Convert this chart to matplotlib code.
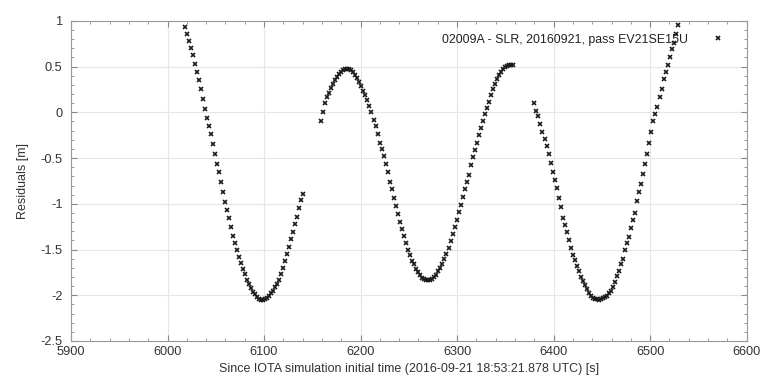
import numpy as np
import matplotlib.pyplot as plt
from matplotlib.ticker import MultipleLocator

plt.rcParams['font.family'] = ['Liberation Sans', 'DejaVu Sans']

# pass 1
t1_start, t1_step = 6018.1, 2.07
res1 = [0.93, 0.86, 0.78, 0.70, 0.63, 0.53, 0.44, 0.35, 0.25, 0.15,
        0.04, -0.06, -0.15, -0.24, -0.35, -0.46, -0.56, -0.65, -0.76, -0.87,
        -0.98, -1.07, -1.16, -1.25, -1.35, -1.43, -1.51, -1.58, -1.65, -1.71,
        -1.77, -1.83, -1.88, -1.92, -1.96, -1.99, -2.02, -2.04, -2.05, -2.05,
        -2.04, -2.03, -2.01, -1.98, -1.95, -1.91, -1.88, -1.83, -1.77, -1.70,
        -1.63, -1.55, -1.47, -1.39, -1.31, -1.22, -1.14, -1.05, -0.96, -0.89]

# pass 2
t2_start, t2_step = 6158.8, 2.1
res2 = [-0.09, 0.00, 0.10, 0.165, 0.215, 0.27, 0.31, 0.35, 0.385, 0.415,
        0.44, 0.46, 0.47, 0.475, 0.475, 0.46, 0.44, 0.41, 0.375, 0.335,
        0.285, 0.235, 0.19, 0.135, 0.07, 0.00, -0.08, -0.15, -0.24, -0.33,
        -0.40, -0.48, -0.57, -0.655, -0.76, -0.84, -0.94, -1.02, -1.11, -1.20,
        -1.28, -1.35, -1.43, -1.50, -1.56, -1.62, -1.66, -1.71, -1.75, -1.78,
        -1.81, -1.825, -1.835, -1.837, -1.83, -1.82, -1.80, -1.775, -1.74, -1.706,
        -1.66, -1.60, -1.545, -1.48, -1.405, -1.33, -1.25, -1.18, -1.09, -1.01,
        -0.93, -0.84, -0.76, -0.68, -0.58, -0.49, -0.41, -0.34, -0.25, -0.17,
        -0.10, -0.02, 0.05, 0.115, 0.19, 0.255, 0.31, 0.36, 0.405, 0.445,
        0.475, 0.495, 0.505, 0.515, 0.52, 0.52]

# pass 3
t3_start, t3_step = 6380.1, 2.09
res3 = [0.10, 0.02, -0.04, -0.13, -0.21, -0.29, -0.37, -0.46, -0.55, -0.65,
        -0.74, -0.83, -0.94, -1.04, -1.15, -1.23, -1.31, -1.40, -1.48, -1.555,
        -1.615, -1.675, -1.73, -1.795, -1.845, -1.89, -1.935, -1.975, -2.005, -2.025,
        -2.04, -2.045, -2.05, -2.045, -2.035, -2.02, -2.005, -1.98, -1.95, -1.91,
        -1.86, -1.79, -1.73, -1.66, -1.60, -1.51, -1.43, -1.36, -1.27, -1.18,
        -1.10, -0.97, -0.87, -0.78, -0.67, -0.56, -0.46, -0.34, -0.21, -0.10,
        -0.02, 0.06, 0.17, 0.26, 0.36, 0.44, 0.52, 0.60, 0.69, 0.76,
        0.86, 0.95]

t = np.concatenate([t1_start + t1_step * np.arange(len(res1)),
                    t2_start + t2_step * np.arange(len(res2)),
                    t3_start + t3_step * np.arange(len(res3))])
res = np.array(res1 + res2 + res3)

fig = plt.figure(figsize=(7.6, 3.79), dpi=100)
ax = fig.add_axes([0.0934, 0.1003, 0.8891, 0.8446])

ax.plot(t, res, linestyle='none', marker='x', ms=2.8, mew=1.2, color='#1a1a1a',
        label='02009A - SLR, 20160921, pass EV21SE15U')

ax.set_xlim(5900, 6600)
ax.set_ylim(-2.5, 1)
ax.xaxis.set_major_locator(MultipleLocator(100))
ax.xaxis.set_minor_locator(MultipleLocator(20))
ax.yaxis.set_major_locator(MultipleLocator(0.5))
ax.yaxis.set_minor_locator(MultipleLocator(0.1))
ax.set_yticks([1, 0.5, 0, -0.5, -1, -1.5, -2, -2.5])
ax.set_yticklabels(['1', '0.5', '0', '-0.5', '-1', '-1.5', '-2', '-2.5'])

ax.grid(True, which='major', color='#e6e6e6', lw=0.8)
ax.tick_params(which='both', direction='in', top=True, right=True,
               colors='#888888', labelcolor='#333333', labelsize=9.2)
ax.tick_params(which='major', length=4)
ax.tick_params(which='minor', length=2)
ax.tick_params(axis='y', pad=6)
for s in ax.spines.values():
    s.set_color('#999999')
    s.set_linewidth(0.8)

ax.set_xlabel('Since IOTA simulation initial time (2016-09-21 18:53:21.878 UTC) [s]',
              fontsize=9, color='#333333', labelpad=4)
ax.set_ylabel('Residuals [m]', fontsize=9, color='#333333', labelpad=8)

ax.legend(loc='upper right', bbox_to_anchor=(0.987, 0.995), frameon=False,
          markerfirst=False, fontsize=8.9, handlelength=1.5, handletextpad=1.6,
          markerscale=1.0, labelcolor='#222222')

fig.savefig('out.png', dpi=100)
